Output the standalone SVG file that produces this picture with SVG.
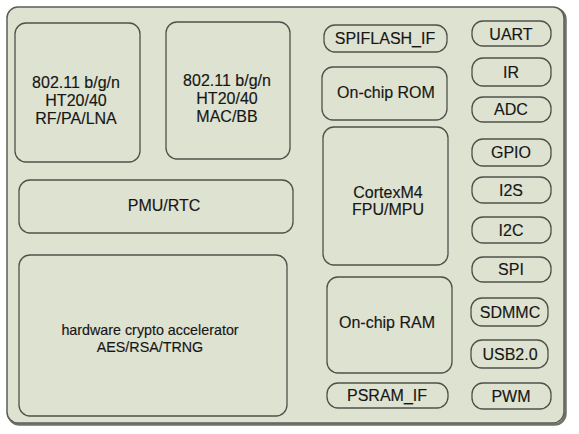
<svg xmlns="http://www.w3.org/2000/svg" width="579" height="434" viewBox="0 0 579 434">
<style>
.box{fill:#dee2d0;stroke:#4e5149;stroke-width:1.3}
.outer{fill:#dee2d0;stroke:#5b5e55;stroke-width:1.5}
.shadow{fill:none;stroke:#6e7268;stroke-width:2.5}
text{font-family:"Liberation Sans",Arial,sans-serif;font-size:16px;fill:#161616;stroke:#161616;stroke-width:0.15;text-anchor:middle}
.small{font-size:14.3px}
</style>
<rect width="579" height="434" fill="#ffffff"/>
<g id="chip">
<rect class="shadow" x="8.5" y="8.5" width="557" height="416" rx="11"/>
<rect class="outer" x="7" y="7" width="557" height="416" rx="11"/>
</g>
<g id="connectors"></g>
<g id="rf"><rect class="box" x="15" y="23" width="125" height="139" rx="11"/>
<text x="76" y="88">802.11 b/g/n</text><text x="76" y="106">HT20/40</text><text x="76" y="124">RF/PA/LNA</text></g>
<g id="mac"><rect class="box" x="166" y="22" width="124" height="137" rx="11"/>
<text x="227" y="86">802.11 b/g/n</text><text x="227" y="104">HT20/40</text><text x="227" y="122">MAC/BB</text></g>
<g id="pmu"><rect class="box" x="19" y="180" width="274" height="53" rx="11"/>
<text x="164" y="211">PMU/RTC</text></g>
<g id="crypto"><rect class="box" x="19" y="255" width="268" height="161" rx="11"/>
<text class="small" x="150" y="335">hardware crypto accelerator</text><text class="small" x="150" y="352">AES/RSA/TRNG</text></g>
<g id="spiflash"><rect class="box" x="324" y="25" width="123" height="27" rx="11"/>
<text x="385" y="44">SPIFLASH_IF</text></g>
<g id="rom"><rect class="box" x="322" y="67" width="125" height="53" rx="11"/>
<text x="386" y="98">On-chip ROM</text></g>
<g id="cortex"><rect class="box" x="323" y="127" width="125" height="138" rx="11"/>
<text x="388" y="198">CortexM4</text><text x="388" y="215">FPU/MPU</text></g>
<g id="ram"><rect class="box" x="327" y="277" width="125" height="96" rx="11"/>
<text x="387" y="328">On-chip RAM</text></g>
<g id="psram"><rect class="box" x="327" y="383" width="121" height="25" rx="11"/>
<text x="387" y="401">PSRAM_IF</text></g>
<g id="uart"><rect class="box" x="472" y="21" width="79" height="25" rx="11"/><text x="511" y="40">UART</text></g>
<g id="ir"><rect class="box" x="472" y="58" width="79" height="28" rx="11"/><text x="511" y="78">IR</text></g>
<g id="adc"><rect class="box" x="472" y="97" width="79" height="25" rx="11"/><text x="511" y="115">ADC</text></g>
<g id="gpio"><rect class="box" x="472" y="139" width="79" height="27" rx="11"/><text x="511" y="158">GPIO</text></g>
<g id="i2s"><rect class="box" x="472" y="177" width="79" height="26" rx="11"/><text x="511" y="196">I2S</text></g>
<g id="i2c"><rect class="box" x="472" y="217" width="79" height="26" rx="11"/><text x="511" y="236">I2C</text></g>
<g id="spi"><rect class="box" x="472" y="257" width="79" height="25" rx="11"/><text x="511" y="275">SPI</text></g>
<g id="sdmmc"><rect class="box" x="471" y="298" width="77" height="28" rx="11"/><text x="510" y="318">SDMMC</text></g>
<g id="usb"><rect class="box" x="471" y="340" width="77" height="28" rx="11"/><text x="510" y="360">USB2.0</text></g>
<g id="pwm"><rect class="box" x="472" y="383" width="79" height="26" rx="11"/><text x="511" y="402">PWM</text></g>
</svg>
